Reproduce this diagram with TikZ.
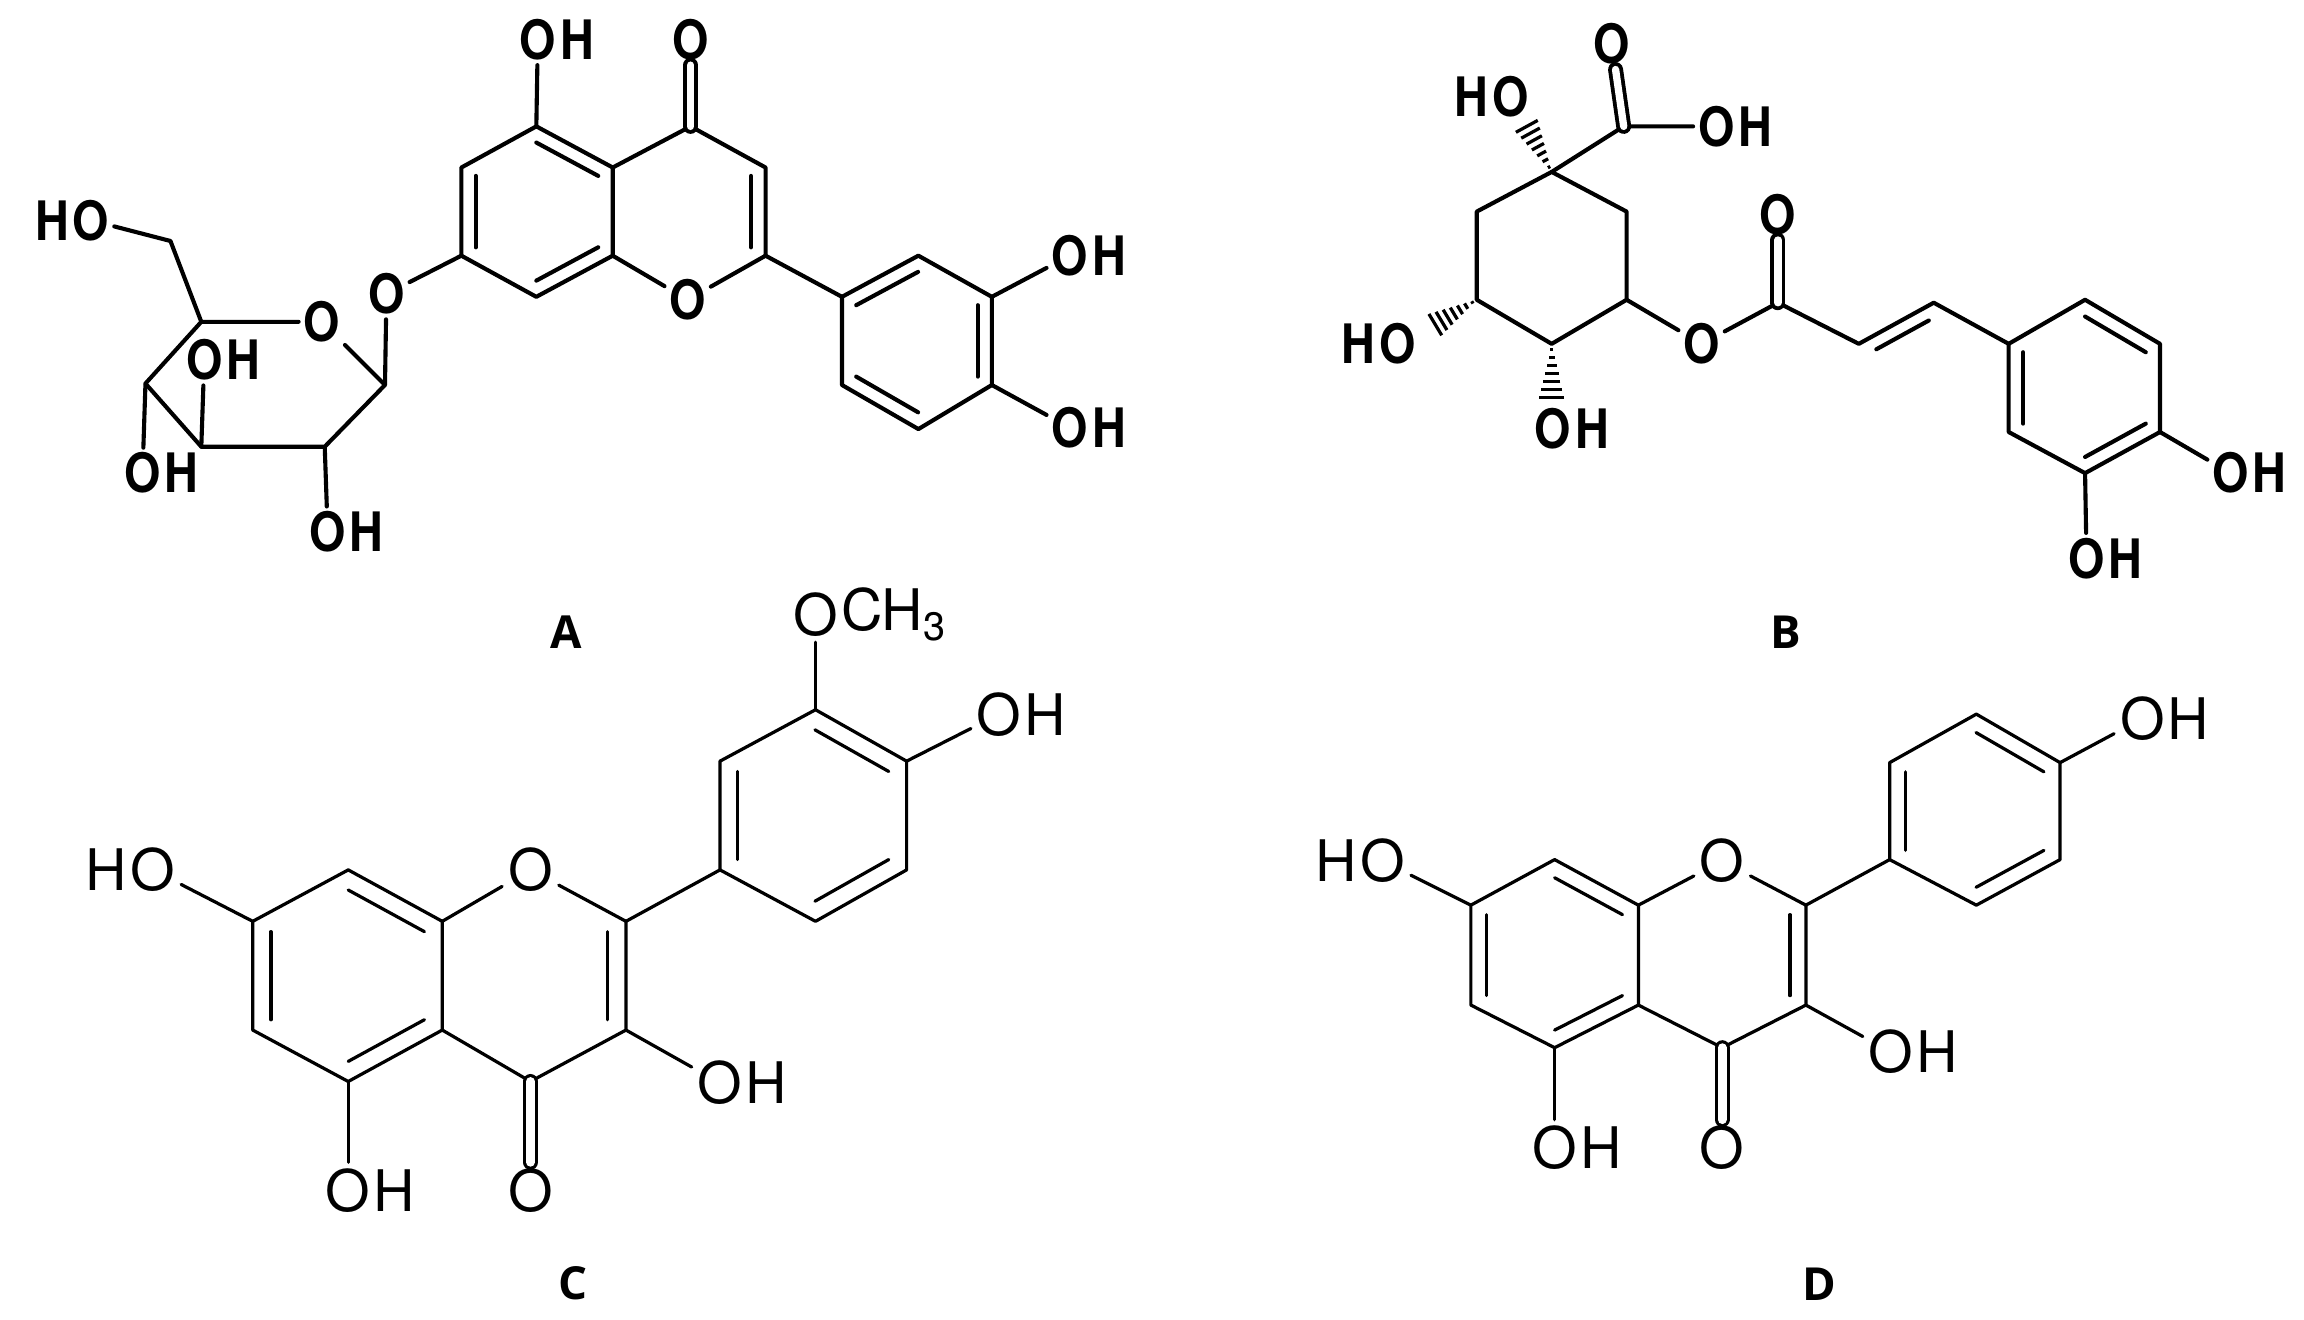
\documentclass[tikz,border=0pt]{standalone}
\usepackage{fontspec}
\usetikzlibrary{calc}
\newfontfamily\abfont[FakeStretch=0.86]{TeX Gyre Heros}
\newfontfamily\cdfont{TeX Gyre Heros}
\newfontfamily\letfont{Open Sans}
\newcommand\fA{\fontsize{37}{37}\selectfont\abfont\bfseries}
\newcommand\fC{\fontsize{39}{39}\selectfont\cdfont}
\newcommand\inb[3]{\draw ($(#1)!0.19!(#3)$) -- ($(#2)!0.19!(#3)$);}
\newcommand\hashb[2]{\foreach \t in {0.1,0.24,...,0.95}{\draw[line width=2.2pt,line cap=butt] ($(#1)!\t!(#2)!{\t*9pt}!90:(#2)$) -- ($(#1)!\t!(#2)!{\t*9pt}!-90:(#2)$);}}
\tikzset{
 labA/.style={font=\fA, inner sep=2pt},
 labC/.style={font=\fC, inner sep=3pt},
 bondA/.style={line width=2.8pt, line join=round, line cap=round},
 bondC/.style={line width=2.2pt, line join=round, line cap=round},
 dblA/.style={double, double distance=5pt, line width=2.6pt},
 dblC/.style={double, double distance=6pt, line width=2.1pt},
 title/.style={font=\fontsize{31}{31}\selectfont\letfont\bfseries}
}
\begin{document}
\begin{tikzpicture}[x=1pt,y=-1pt]
\useasboundingbox[fill=white] (0,0) rectangle (1568,898);
% ================= A =================
\begin{scope}[bondA]
\coordinate (a5) at (365,86); \coordinate (a4) at (470,86);
\coordinate (a6) at (314,114); \coordinate (a4a) at (417,114); \coordinate (a3) at (521,114);
\coordinate (a7) at (314,174); \coordinate (a8a) at (417,174); \coordinate (a2) at (521,174);
\coordinate (a8) at (365,202);
\coordinate (acl) at (365,144); \coordinate (acr) at (469,144);
\coordinate (p1) at (573,202); \coordinate (p2) at (625,174); \coordinate (p3) at (675,202);
\coordinate (p4) at (675,262); \coordinate (p5) at (625,292); \coordinate (p6) at (573,262);
\coordinate (pc) at (624,232);
\node[labA] (aO1) at (468,204) {O};
\node[labA] (aO4) at (470,27) {O};
\node[labA] (a5O) at (366,27) {O};
\node[labA,anchor=west,inner sep=0pt] (a5H) at ([xshift=-2pt]a5O.east) {H};
\node[labA] (aOg) at (263,200) {O};
\node[labA] (p3O) at (728,174) {O};
\node[labA,anchor=west,inner sep=0pt] (p3H) at ([xshift=-2pt]p3O.east) {H};
\node[labA] (p4O) at (728,291) {O};
\node[labA,anchor=west,inner sep=0pt] (p4H) at ([xshift=-2pt]p4O.east) {H};
\draw (a4a) -- (a5) -- (a6) -- (a7) -- (a8) -- (a8a) -- (a4a) -- (a4) -- (a3) -- (a2);
\draw (a2) -- (aO1) -- (a8a);
\draw (a5) -- (a5O);
\draw[dblA] (a4) -- (aO4);
\draw (a7) -- (aOg);
\draw (a2) -- (p1);
\draw (p1) -- (p2) -- (p3) -- (p4) -- (p5) -- (p6) -- cycle;
\draw (p3) -- (p3O); \draw (p4) -- (p4O);
\inb{a5}{a4a}{acl} \inb{a6}{a7}{acl} \inb{a8}{a8a}{acl}
\inb{a3}{a2}{acr}
\inb{p1}{p2}{pc} \inb{p3}{p4}{pc} \inb{p5}{p6}{pc}
% sugar
\coordinate (s1) at (262,262); \coordinate (s5) at (137,219); \coordinate (s6) at (116,164);
\coordinate (s4) at (99,261); \coordinate (s3) at (137,304); \coordinate (s2) at (221,304);
\node[labA] (sO) at (219,219) {O};
\node[labA] (s6O) at (62,150) {O};
\node[labA,anchor=east,inner sep=0pt] (s6H) at ([xshift=2pt]s6O.west) {H};
\node[labA] (s2O) at (223,362) {O};
\node[labA,anchor=west,inner sep=0pt] (s2H) at ([xshift=-2pt]s2O.east) {H};
\node[labA] (s4O) at (97,322) {O};
\node[labA,anchor=west,inner sep=0pt] (s4H) at ([xshift=-2pt]s4O.east) {H};
\node[labA] (s3O) at (139,245) {O};
\node[labA,anchor=west,inner sep=0pt] (s3H) at ([xshift=-2pt]s3O.east) {H};
\draw (aOg) -- (s1) -- (s2) -- (s3) -- (s4) -- (s5) -- (sO) -- (s1);
\draw (s5) -- (s6) -- (s6O);
\draw (s2) -- (s2O); \draw (s4) -- (s4O); \draw (s3) -- (s3O);
\end{scope}
\node[title] (tA) at (385,430) {A};
% ================= B =================
\begin{scope}[bondA]
\coordinate (b1) at (1056,117); \coordinate (b2) at (1107,144); \coordinate (b3) at (1107,204);
\coordinate (b4) at (1056,234); \coordinate (b5) at (1005,204); \coordinate (b6) at (1005,144);
\coordinate (bc) at (1105,86);
\node[labA] (bcO) at (1097,30) {O};
\node[labA] (bOH) at (1168,86) {O};
\node[labA,anchor=west,inner sep=0pt] (bOHH) at ([xshift=-2pt]bOH.east) {H};
\node[labA] (b1O) at (1028,66) {O};
\node[labA,anchor=east,inner sep=0pt] (b1H) at ([xshift=2pt]b1O.west) {H};
\coordinate (h1) at (1038,84);
\node[labA] (b5O) at (951,234) {O};
\node[labA,anchor=east,inner sep=0pt] (b5H) at ([xshift=2pt]b5O.west) {H};
\coordinate (h5) at (975,222);
\node[labA] (b4O) at (1057,292) {O};
\node[labA,anchor=west,inner sep=0pt] (b4H) at ([xshift=-2pt]b4O.east) {H};
\coordinate (h4) at (1056,273);
\node[labA] (bOe) at (1158,234) {O};
\coordinate (be) at (1210,206);
\node[labA] (beO) at (1210,146) {O};
\coordinate (ba) at (1265,234); \coordinate (bb) at (1316,206);
\coordinate (r1) at (1367,234); \coordinate (r2) at (1419,204); \coordinate (r3) at (1470,234);
\coordinate (r4) at (1470,294); \coordinate (r5) at (1419,322); \coordinate (r6) at (1367,294);
\coordinate (rc) at (1419,264);
\node[labA] (r4O) at (1518,322) {O};
\node[labA,anchor=west,inner sep=0pt] (r4H) at ([xshift=-2pt]r4O.east) {H};
\node[labA] (r5O) at (1420,380) {O};
\node[labA,anchor=west,inner sep=0pt] (r5H) at ([xshift=-2pt]r5O.east) {H};
\draw (b1) -- (b2) -- (b3) -- (b4) -- (b5) -- (b6) -- cycle;
\draw (b1) -- (bc) -- (bOH);
\draw[dblA] (bc) -- (bcO);
\hashb{b1}{h1} \hashb{b5}{h5} \hashb{b4}{h4}
\draw (b3) -- (bOe) -- (be) -- (ba) -- (bb) -- (r1);
\draw[dblA] (be) -- (beO);
\draw ($(ba)!0.15!(bb)+(4.3,7.9)$) -- ($(bb)!0.15!(ba)+(4.3,7.9)$);
\draw (r1) -- (r2) -- (r3) -- (r4) -- (r5) -- (r6) -- cycle;
\draw (r4) -- (r4O); \draw (r5) -- (r5O);
\inb{r2}{r3}{rc} \inb{r4}{r5}{rc} \inb{r6}{r1}{rc}
\end{scope}
\node[title] (tB) at (1215,430) {B};
% ================= C =================
\begin{scope}[bondC]
\coordinate (c7) at (172,627); \coordinate (c8) at (237,592); \coordinate (c8a) at (301,627);
\coordinate (c2) at (426,627); \coordinate (c3) at (426,701); \coordinate (c4) at (361,736);
\coordinate (c4a) at (301,701); \coordinate (c5) at (237,736); \coordinate (c6) at (172,701);
\coordinate (ccl) at (237,664); \coordinate (ccr) at (361,664);
\node[labC] (cO1) at (361,592) {O};
\node[labC] (cO4) at (361,810) {O};
\node[labC] (c5O) at (237,810) {O};
\node[labC,anchor=west,inner sep=0pt] (c5H) at ([xshift=-3pt]c5O.east) {H};
\node[labC] (c7O) at (104,592) {O};
\node[labC,anchor=east,inner sep=0pt] (c7H) at ([xshift=3pt]c7O.west) {H};
\node[labC] (c3O) at (490,737) {O};
\node[labC,anchor=west,inner sep=0pt] (c3H) at ([xshift=-3pt]c3O.east) {H};
\coordinate (q1) at (490,592); \coordinate (q2) at (490,518); \coordinate (q3) at (555,483);
\coordinate (q4) at (617,518); \coordinate (q5) at (617,592); \coordinate (q6) at (555,627);
\coordinate (qc) at (553,555);
\node[labC] (q3O) at (555,418) {O};
\node[labC,anchor=west,inner sep=0pt] (q3M) at ([xshift=-3pt]q3O.east) {CH\raisebox{-7pt}{\fontsize{27}{27}\selectfont 3}};
\node[labC] (q4O) at (680,486) {O};
\node[labC,anchor=west,inner sep=0pt] (q4H) at ([xshift=-3pt]q4O.east) {H};
\draw (c4a) -- (c5) -- (c6) -- (c7) -- (c8) -- (c8a) -- (c4a) -- (c4) -- (c3) -- (c2);
\draw (c2) -- (cO1) -- (c8a);
\draw[dblC] (c4) -- (cO4);
\draw (c5) -- (c5O); \draw (c7) -- (c7O); \draw (c3) -- (c3O);
\draw (c2) -- (q1);
\draw (q1) -- (q2) -- (q3) -- (q4) -- (q5) -- (q6) -- cycle;
\draw (q3) -- (q3O); \draw (q4) -- (q4O);
\inb{c8}{c8a}{ccl} \inb{c6}{c7}{ccl} \inb{c4a}{c5}{ccl}
\inb{c2}{c3}{ccr}
\inb{q1}{q2}{qc} \inb{q3}{q4}{qc} \inb{q5}{q6}{qc}
\end{scope}
\node[title] (tC) at (390,873) {C};
% ================= D =================
\begin{scope}[bondC]
\coordinate (d7) at (1001,616); \coordinate (d8) at (1058,585); \coordinate (d8a) at (1115,616);
\coordinate (d2) at (1229,616); \coordinate (d3) at (1229,684); \coordinate (d4) at (1172,713);
\coordinate (d4a) at (1115,684); \coordinate (d5) at (1058,713); \coordinate (d6) at (1001,684);
\coordinate (dcl) at (1058,650); \coordinate (dcr) at (1172,650);
\node[labC] (dO1) at (1172,586) {O};
\node[labC] (dO4) at (1172,781) {O};
\node[labC] (d5O) at (1058,781) {O};
\node[labC,anchor=west,inner sep=0pt] (d5H) at ([xshift=-3pt]d5O.east) {H};
\node[labC] (d7O) at (941,586) {O};
\node[labC,anchor=east,inner sep=0pt] (d7H) at ([xshift=3pt]d7O.west) {H};
\node[labC] (d3O) at (1287,716) {O};
\node[labC,anchor=west,inner sep=0pt] (d3H) at ([xshift=-3pt]d3O.east) {H};
\coordinate (e1) at (1286,585); \coordinate (e2) at (1286,519); \coordinate (e3) at (1345,486);
\coordinate (e4) at (1402,519); \coordinate (e5) at (1402,585); \coordinate (e6) at (1345,616);
\coordinate (ec) at (1344,552);
\node[labC] (e4O) at (1458,489) {O};
\node[labC,anchor=west,inner sep=0pt] (e4H) at ([xshift=-3pt]e4O.east) {H};
\draw (d4a) -- (d5) -- (d6) -- (d7) -- (d8) -- (d8a) -- (d4a) -- (d4) -- (d3) -- (d2);
\draw (d2) -- (dO1) -- (d8a);
\draw[dblC] (d4) -- (dO4);
\draw (d5) -- (d5O); \draw (d7) -- (d7O); \draw (d3) -- (d3O);
\draw (d2) -- (e1);
\draw (e1) -- (e2) -- (e3) -- (e4) -- (e5) -- (e6) -- cycle;
\draw (e4) -- (e4O);
\inb{d8}{d8a}{dcl} \inb{d6}{d7}{dcl} \inb{d4a}{d5}{dcl}
\inb{d2}{d3}{dcr}
\inb{e1}{e2}{ec} \inb{e3}{e4}{ec} \inb{e5}{e6}{ec}
\end{scope}
\node[title] (tD) at (1238,874) {D};
\end{tikzpicture}
\end{document}
